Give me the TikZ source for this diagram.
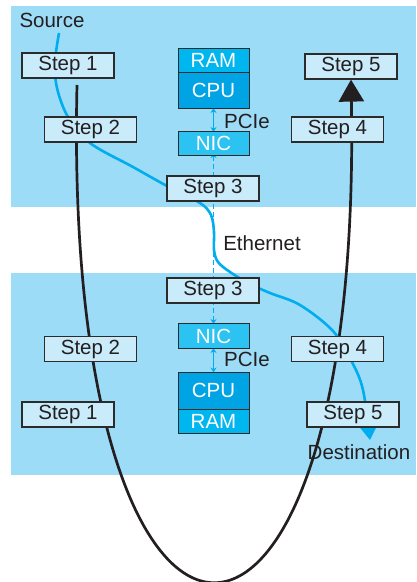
\documentclass[tikz,border=0pt]{standalone}
\usepackage{fontspec}
\setmainfont{Liberation Sans}
\usetikzlibrary{arrows.meta}
\definecolor{panel}{HTML}{9DDCF7}
\definecolor{stepfill}{HTML}{C9EBFA}
\definecolor{boxline}{HTML}{2B2B2B}
\definecolor{txt}{HTML}{231F20}
\definecolor{ramc}{HTML}{00B6EE}
\definecolor{cpuc}{HTML}{00A3E4}
\definecolor{nicc}{HTML}{2CC2F1}
\definecolor{flow}{HTML}{00ADEE}
\pgfdeclarelayer{panels}
\pgfdeclarelayer{lines}
\pgfsetlayers{panels,lines,main}
\begin{document}
\begin{tikzpicture}[x=1pt,y=-1pt,
  lbl/.style={font=\fontsize{20.5}{24}\selectfont, text=txt, inner sep=0pt},
  stepbox/.style={lbl, draw=boxline, fill=stepfill, line width=1.2pt, minimum width=92pt, minimum height=25pt},
  hw/.style={draw=boxline, line width=1pt, minimum width=71pt, inner sep=0pt, text=white, font=\fontsize{20.5}{24}\selectfont},
  blk/.style={draw=txt, line width=2.7pt, -{Triangle[width=25pt,length=22pt]}},
  blu/.style={draw=flow, line width=2.6pt, -{Triangle[width=16pt,length=13pt]}},
  dsh/.style={draw=flow, line width=1.6pt, dash pattern=on 5pt off 3pt, {Stealth[width=6pt,length=5pt]}-{Stealth[width=6pt,length=5pt]}},
  pci/.style={draw=flow, line width=1.6pt, {Stealth[width=6pt,length=5pt]}-{Stealth[width=6pt,length=5pt]}}
]
\useasboundingbox (0,0) rectangle (416,582);
% panels
\begin{pgfonlayer}{panels}
\fill[panel] (11,6) rectangle (416,207);
\fill[panel] (11,273) rectangle (416,475);
\end{pgfonlayer}

% step boxes
\node[stepbox] (t1) at (68,65.5) {Step 1};
\node[stepbox] (t2) at (90.5,129.5) {Step 2};
\node[stepbox] (t3) at (213,188.5) {Step 3};
\node[stepbox] (t4) at (337.5,129.5) {Step 4};
\node[stepbox] (t5) at (351,66.5) {Step 5};
\node[stepbox] (b3) at (213,290.5) {Step 3};
\node[stepbox] (b2) at (90.5,349) {Step 2};
\node[stepbox] (b1) at (68,414.5) {Step 1};
\node[stepbox] (b4) at (337.5,349) {Step 4};
\node[stepbox] (b5) at (353,414.5) {Step 5};

% hardware
\node[hw, fill=ramc, minimum height=24pt] (tram) at (213.5,60.5) {RAM};
\node[hw, fill=cpuc, minimum height=36pt] (tcpu) at (213.5,90.5) {CPU};
\node[hw, fill=nicc, minimum height=24pt] (tnic) at (213.5,143.5) {NIC};
\node[hw, fill=nicc, minimum height=25pt] (bnic) at (213.5,336) {NIC};
\node[hw, fill=cpuc, minimum height=37pt] (bcpu) at (213.5,390.5) {CPU};
\node[hw, fill=ramc, minimum height=24pt] (bram) at (213.5,421) {RAM};

% labels
\node[lbl] (src) at (52,20) {Source};
\node[lbl] (eth) at (262,243) {Ethernet};
\node[lbl] (pa) at (247,121) {PCIe};
\node[lbl] (pb) at (247,359) {PCIe};

% connectors
\begin{pgfonlayer}{lines}
\coordinate (bs) at (77,85);
\draw[blk] (bs) .. controls (62,746) and (363,746) .. (t5.south);
\coordinate (f0) at (59,33);
\draw[blu] plot[smooth, tension=0.55] coordinates {(f0) (55,62) (57,88) (68,117) (90,143) (133,167) (167,186) (200,203) (211,215) (214,232) (214,250) (218,262) (230,272) (250,284) (270,293) (300,305) (333,331) (352,362) (363,390) (370,440)};
\draw[dsh] ([yshift=3pt]tnic.south) -- ([yshift=-1pt]bnic.north);
\draw[pci] ([yshift=1pt]tcpu.south) -- ([yshift=-1pt]tnic.north);
\draw[pci] ([yshift=1pt]bnic.south) -- ([yshift=-1pt]bcpu.north);
\end{pgfonlayer}
\node[lbl] (dst) at (359,452) {Destination};
\end{tikzpicture}
\end{document}
